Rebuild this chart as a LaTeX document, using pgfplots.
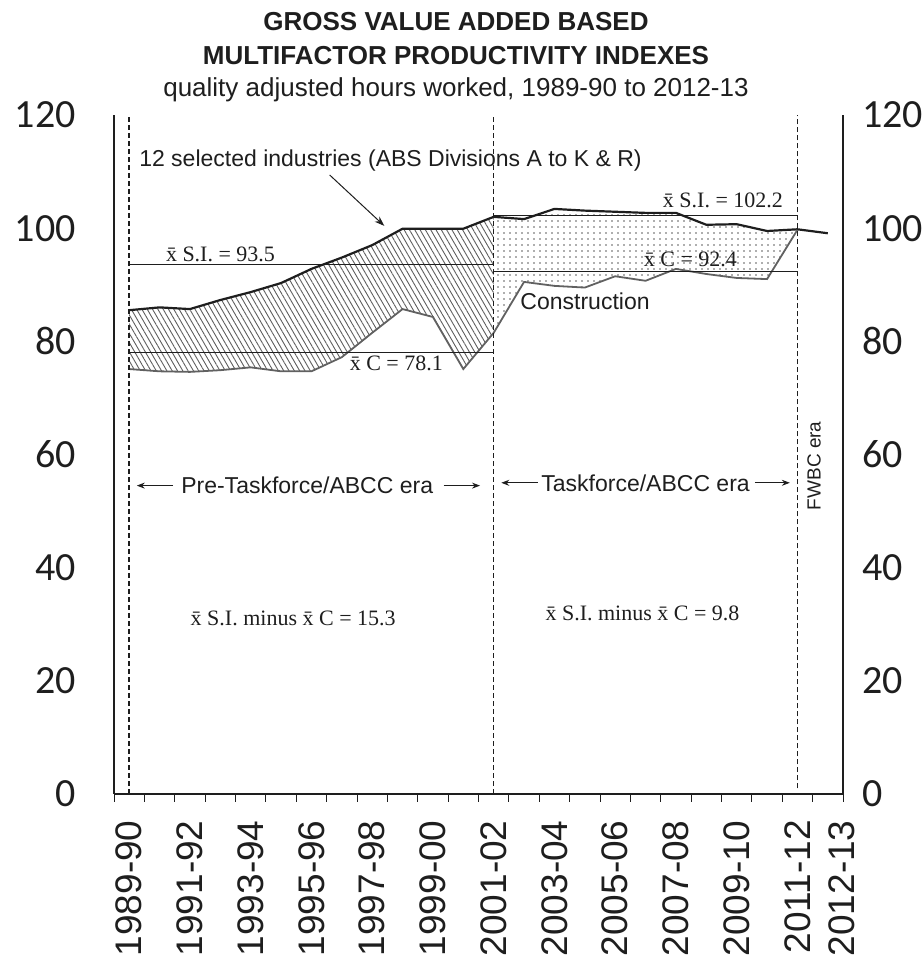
\documentclass[border=0pt]{standalone}
\usepackage{fontspec}
\setmainfont{Liberation Sans}
\newfontfamily\serifx{Liberation Serif}
\newfontfamily\carlito{Carlito}
\usepackage{pgfplots}
\usepackage{pgfplotstable}
\pgfplotsset{compat=1.18}
\usepgfplotslibrary{fillbetween}
\usetikzlibrary{patterns.meta,arrows.meta}

\definecolor{ink}{HTML}{1E1E1E}
\definecolor{hatch}{HTML}{5E5E5E}
\newcommand\xb{\=x}

\pgfplotstableread{
x si
0 85.5
1 86.0
2 85.7
3 87.3
4 88.7
5 90.3
6 92.8
7 94.8
8 97.0
9 99.9
10 99.9
11 99.9
12 102.0
13 101.6
14 103.4
15 103.1
16 102.9
17 102.7
18 102.7
19 100.6
20 100.7
21 99.5
22 99.8
23 99.1
}\dataSI

\pgfplotstableread{
x c
0 75.1
1 74.7
2 74.6
3 74.9
4 75.4
5 74.7
6 74.7
7 77.2
8 81.5
9 85.7
10 84.3
11 75.1
12 81.5
13 90.5
14 89.8
15 89.5
16 91.5
17 90.7
18 92.8
19 91.9
20 91.2
21 91.0
22 99.7
}\dataC

\begin{document}
\begin{tikzpicture}
\path (0,0) rectangle (460pt,482.5pt);
\node[font=\bfseries\fontsize{13}{15}\selectfont, text=ink] at (228pt,471.5pt) {GROSS VALUE ADDED BASED};
\node[font=\bfseries\fontsize{13}{15}\selectfont, text=ink] at (228pt,454.5pt) {MULTIFACTOR PRODUCTIVITY INDEXES};
\node[font=\fontsize{13}{15}\selectfont, text=ink] at (228pt,437.5pt) {quality adjusted hours worked, 1989-90 to 2012-13};

\begin{axis}[
  at={(57pt,85.5pt)}, anchor=south west,
  scale only axis, width=364.5pt, height=339.5pt,
  xmin=-0.5, xmax=23.5, ymin=0, ymax=120,
  axis x line*=bottom, axis y line*=left,
  axis line style={ink, line width=1pt},
  xtick={0,2,4,6,8,10,12,14,16,18,20,22,23.45},
  xticklabels={1989-90,1991-92,1993-94,1995-96,1997-98,1999-00,2001-02,2003-04,2005-06,2007-08,2009-10,2011-12,2012-13},
  minor xtick={-0.5,0.5,...,23.5},
  major tick length=0pt,
  minor tick length=4pt,
  minor x tick style={ink, line width=0.5pt},
  tick align=outside,
  xticklabel style={rotate=90, anchor=east, inner sep=0pt, font=\fontsize{18.5}{18.5}\selectfont, text=ink},
  xticklabel shift=13pt,
  ytick={0,20,...,120},
  yticklabel style={font=\carlito\fontsize{20}{20}\selectfont, text=ink, inner sep=0pt},
  yticklabel shift=19pt,
  /pgf/number format/assume math mode=true,
  clip=false,
]
\addplot[name path=si, draw=none] table[x=x, y=si] {\dataSI};
\addplot[name path=c, draw=none] table[x=x, y=c] {\dataC};
\addplot[draw=none, pattern={Lines[angle=-60,distance=2.3pt,line width=0.45pt]}, pattern color=hatch] fill between[of=si and c, soft clip={domain=0:12}];
\addplot[draw=none, pattern={Dots[distance=3pt,radius=0.4pt]}, pattern color=hatch] fill between[of=si and c, soft clip={domain=12:22}];

\addplot[ink, line width=1.1pt] table[x=x, y=si] {\dataSI};
\addplot[draw=ink!70, line width=0.9pt] table[x=x, y=c] {\dataC};

% mean lines
\addplot[ink, line width=0.5pt] coordinates {(0,93.5) (12,93.5)};
\addplot[ink, line width=0.5pt] coordinates {(0,78.1) (12,78.1)};
\addplot[ink, line width=0.5pt] coordinates {(12,102.2) (22,102.2)};
\addplot[ink, line width=0.5pt] coordinates {(12,92.4) (22,92.4)};

% era separators
\addplot[ink, line width=0.9pt, dash pattern=on 2.5pt off 1.5pt] coordinates {(0,0) (0,120)};
\addplot[ink, line width=0.8pt, dash pattern=on 2.5pt off 1.5pt] coordinates {(12,0) (12,120)};
\addplot[ink, line width=0.8pt, dash pattern=on 2.5pt off 1.5pt] coordinates {(22,1) (22,120)};

% right frame line and right tick labels
\draw[ink, line width=0.7pt] (rel axis cs:1,0) -- (rel axis cs:1,1);
\pgfplotsinvokeforeach{0,20,40,60,80,100,120}{
  \node[anchor=west, inner sep=0pt, font=\carlito\fontsize{20}{20}\selectfont, text=ink] at ([xshift=9.5pt]axis cs:23.5,#1) {#1};
}

% annotations
\node[anchor=west, font=\fontsize{11.5}{13}\selectfont, text=ink] at (axis cs:0.1,112) {12 selected industries (ABS Divisions A to K \& R)};
\draw[-{Stealth[length=5pt,width=3.5pt]}, ink, line width=0.5pt] (axis cs:6.6,109.4) -- (axis cs:8.4,100.4);
\node[anchor=south west, inner sep=1.5pt, font=\serifx\fontsize{11}{13}\selectfont, text=ink] at (axis cs:1.1,93.5) {\xb\ S.I. = 93.5};
\node[anchor=north west, inner sep=1.5pt, font=\serifx\fontsize{11}{13}\selectfont, text=ink] at (axis cs:7.15,78.1) {\xb\ C = 78.1};
\node[anchor=south east, inner sep=4pt, font=\serifx\fontsize{11}{13}\selectfont, text=ink] at (axis cs:21.8,102.2) {\xb\ S.I. = 102.2};
\node[anchor=south west, inner sep=2pt, font=\serifx\fontsize{11}{13}\selectfont, text=ink] at (axis cs:16.8,92.4) {\xb\ C = 92.4};
\node[anchor=west, font=\fontsize{11.5}{13}\selectfont, text=ink] at (axis cs:12.65,87.0) {Construction};

\node[font=\fontsize{11.5}{13}\selectfont, text=ink] at (axis cs:5.86,54.5) {Pre-Taskforce/ABCC era};
\draw[-{Stealth[length=4pt,width=3pt]}, ink, line width=0.5pt] (axis cs:1.45,54.5) -- (axis cs:0.25,54.5);
\draw[-{Stealth[length=4pt,width=3pt]}, ink, line width=0.5pt] (axis cs:10.35,54.5) -- (axis cs:11.55,54.5);
\node[font=\fontsize{11.5}{13}\selectfont, text=ink] at (axis cs:17.0,55) {Taskforce/ABCC era};
\draw[-{Stealth[length=4pt,width=3pt]}, ink, line width=0.5pt] (axis cs:13.45,55) -- (axis cs:12.25,55);
\draw[-{Stealth[length=4pt,width=3pt]}, ink, line width=0.5pt] (axis cs:20.6,55) -- (axis cs:21.75,55);
\node[rotate=90, font=\fontsize{9.5}{11}\selectfont, text=ink] at (axis cs:22.55,58) {FWBC era};

\node[font=\serifx\fontsize{11}{13}\selectfont, text=ink] at (axis cs:5.4,31) {\xb\ S.I. minus \xb\ C = 15.3};
\node[font=\serifx\fontsize{11}{13}\selectfont, text=ink] at (axis cs:16.9,32) {\xb\ S.I. minus \xb\ C = 9.8};
\end{axis}
\end{tikzpicture}
\end{document}
